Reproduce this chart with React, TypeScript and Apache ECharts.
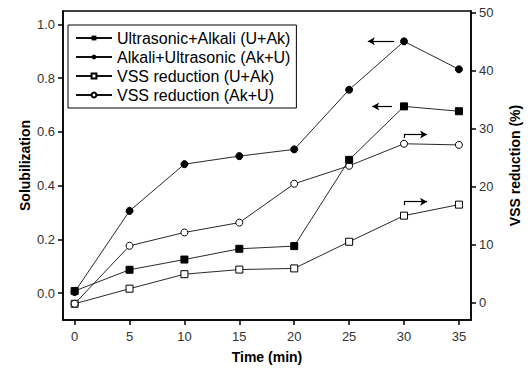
import React, { useEffect, useRef } from "react";
import * as echarts from "echarts";

const times = [0, 5, 10, 15, 20, 25, 30, 35];
const ultrasonicAlkali = [0.008, 0.087, 0.125, 0.165, 0.175, 0.496, 0.695, 0.677];
const alkaliUltrasonic = [0.004, 0.306, 0.48, 0.51, 0.535, 0.757, 0.937, 0.833];
const vssUAk = [-0.2, 2.4, 4.9, 5.7, 5.9, 10.5, 15.0, 16.9];
const vssAkU = [-0.2, 9.8, 12.1, 13.8, 20.5, 23.6, 27.4, 27.2];

const xTicks = [0, 5, 10, 15, 20, 25, 30, 35];
const leftTicks = [0, 0.2, 0.4, 0.6, 0.8, 1.0];
const rightTicks = [0, 10, 20, 30, 40, 50];

const seriesNames = [
  "Ultrasonic+Alkali (U+Ak)",
  "Alkali+Ultrasonic (Ak+U)",
  "VSS reduction (U+Ak)",
  "VSS reduction (Ak+U)",
];

const pairs = (ys: number[]) => times.map((t, i) => [t, ys[i]]);

export default function App() {
  const ref = useRef<HTMLDivElement>(null);
  useEffect(() => {
    document.body.style.margin = "0";
    if (!ref.current) return;
    const chart = echarts.init(ref.current, undefined, { renderer: "svg" });
    const font = "Liberation Sans, Arial, sans-serif";
    const tickLabel = { fontFamily: font, fontSize: 13, color: "#333" };
    const lineStyle = { color: "#111", width: 0.9 };
    const arrowLine = { color: "#000", width: 1.2, type: "solid" as const };
    const titleStyle = { fontFamily: font, fontSize: 14, fontWeight: "bold", color: "#000" };
    chart.setOption({
      animation: false,
      backgroundColor: "#fff",
      grid: {
        left: 63,
        right: 46,
        top: 11,
        bottom: 51,
        show: true,
        borderColor: "#000",
        borderWidth: 1.5,
      },
      legend: {
        orient: "vertical",
        left: 68,
        top: 25,
        data: seriesNames,
        backgroundColor: "#fff",
        borderColor: "#000",
        borderWidth: 1,
        padding: [5, 6, 5, 7],
        itemGap: 3,
        itemWidth: 36,
        itemHeight: 6,
        textStyle: { fontFamily: font, fontSize: 16, color: "#000" },
      },
      xAxis: {
        type: "value",
        min: -1.06,
        max: 36.1,
        name: "Time (min)",
        nameLocation: "middle",
        nameGap: 30,
        nameMoveOverlap: false,
        nameTextStyle: titleStyle,
        axisLine: { show: true, onZero: false, lineStyle: { color: "#000", width: 1.5 } },
        axisTick: { show: true, length: 5, customValues: xTicks, lineStyle: { color: "#000", width: 1.5 } },
        axisLabel: { ...tickLabel, margin: 10, customValues: xTicks },
        splitLine: { show: false },
      },
      yAxis: [
        {
          type: "value",
          min: -0.1,
          max: 1.05,
          name: "Solubilization",
          nameLocation: "middle",
          nameGap: 31,
          nameMoveOverlap: false,
          nameTextStyle: titleStyle,
          axisLine: { show: true, onZero: false, lineStyle: { color: "#000", width: 1.5 } },
          axisTick: { show: true, length: 5, customValues: leftTicks, lineStyle: { color: "#000", width: 1.5 } },
          axisLabel: {
            ...tickLabel,
            margin: 8,
            customValues: leftTicks,
            formatter: (v: number) => v.toFixed(1),
          },
          splitLine: { show: false },
        },
        {
          type: "value",
          min: -3,
          max: 50.3,
          position: "right",
          name: "VSS reduction (%)",
          nameLocation: "middle",
          nameGap: 37,
          nameMoveOverlap: false,
          nameTextStyle: titleStyle,
          axisLine: { show: true, onZero: false, lineStyle: { color: "#000", width: 1.5 } },
          axisTick: { show: true, length: 5, customValues: rightTicks, lineStyle: { color: "#000", width: 1.5 } },
          axisLabel: { ...tickLabel, margin: 8, customValues: rightTicks },
          splitLine: { show: false },
        },
      ],
      series: [
        {
          name: seriesNames[0],
          type: "line",
          yAxisIndex: 0,
          data: pairs(ultrasonicAlkali),
          symbol: "rect",
          symbolSize: 7,
          lineStyle,
          itemStyle: { color: "#000", borderColor: "#000" },
          markLine: {
            silent: true,
            symbol: ["none", "arrow"],
            symbolSize: [6, 7],
            label: { show: false },
            lineStyle: arrowLine,
            data: [[{ coord: [28.9, 0.695] }, { coord: [27.1, 0.695] }]],
          },
          z: 3,
        },
        {
          name: seriesNames[1],
          type: "line",
          yAxisIndex: 0,
          data: pairs(alkaliUltrasonic),
          symbol: "circle",
          symbolSize: 7,
          lineStyle,
          itemStyle: { color: "#000", borderColor: "#000" },
          markLine: {
            silent: true,
            symbol: ["none", "arrow"],
            symbolSize: [6, 7],
            label: { show: false },
            lineStyle: arrowLine,
            data: [[{ coord: [29.1, 0.937] }, { coord: [26.7, 0.937] }]],
          },
          z: 3,
        },
        {
          name: seriesNames[2],
          type: "line",
          yAxisIndex: 1,
          data: pairs(vssUAk),
          symbol: "rect",
          symbolSize: 7,
          lineStyle,
          itemStyle: { color: "#fff", borderColor: "#000", borderWidth: 1 },
          markLine: {
            silent: true,
            symbol: ["none", "none"],
            label: { show: false },
            lineStyle: arrowLine,
            data: [
              [{ coord: [30.0, 17.4], symbol: "none" }, { coord: [32.1, 17.4], symbol: "arrow", symbolSize: [6, 7] }],
              [{ coord: [30.0, 17.4] }, { coord: [30.0, 16.8] }],
            ],
          },
          z: 2,
        },
        {
          name: seriesNames[3],
          type: "line",
          yAxisIndex: 1,
          data: pairs(vssAkU),
          symbol: "circle",
          symbolSize: 7,
          lineStyle,
          itemStyle: { color: "#fff", borderColor: "#000", borderWidth: 1 },
          markLine: {
            silent: true,
            symbol: ["none", "none"],
            label: { show: false },
            lineStyle: arrowLine,
            data: [
              [{ coord: [30.0, 29.0], symbol: "none" }, { coord: [32.1, 29.0], symbol: "arrow", symbolSize: [6, 7] }],
              [{ coord: [30.0, 29.0] }, { coord: [30.0, 28.4] }],
            ],
          },
          z: 2,
        },
      ],
    });
    return () => chart.dispose();
  }, []);
  return <div ref={ref} style={{ width: 530, height: 371 }} />;
}
